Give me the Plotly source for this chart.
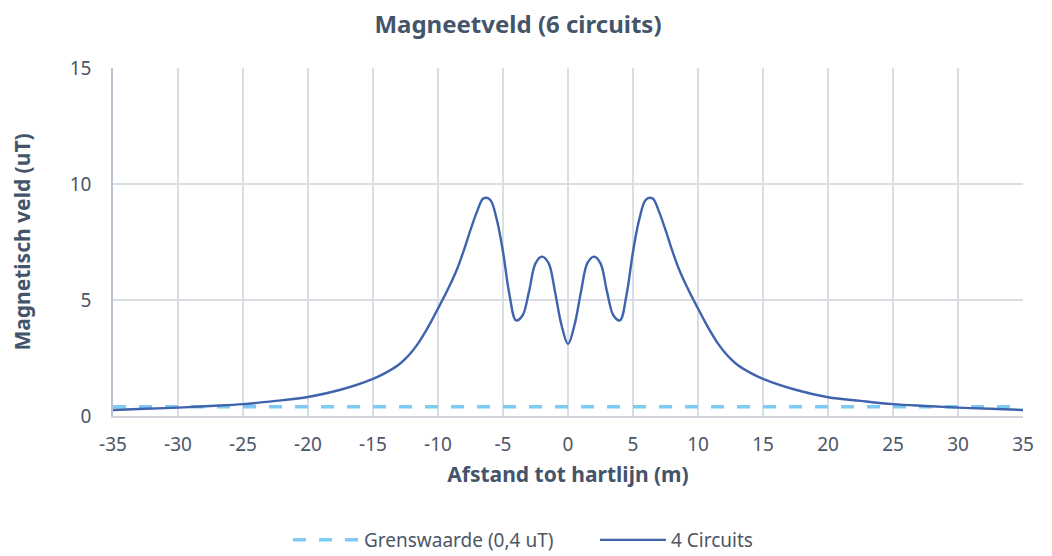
import plotly.graph_objects as go

# Data
afstand = [-35, -32.5, -30, -27.5, -25, -22.5, -20, -17.5, -15, -14, -13, -12.5, -12, -11.5, -11, -10.5, -10, -9.5, -9, -8.5, -8,
           -7.5, -7, -6.5, -6, -5.5, -5, -4.5, -4, -3.5, -3, -2.5, -2, -1.5, -1, -0.5, 0,
           0.5, 1, 1.5, 2, 2.5, 3, 3.5, 4, 4.5, 5, 5.5, 6, 6.5, 7, 7.5,
           8, 8.5, 9, 9.5, 10, 10.5, 11, 11.5, 12, 12.5, 13, 14, 15, 17.5, 20, 22.5, 25, 27.5, 30, 32.5, 35]
veld_4_circuits = [0.26, 0.31, 0.36, 0.43, 0.51, 0.65, 0.82, 1.13, 1.6, 1.87, 2.22, 2.47, 2.78, 3.15, 3.6, 4.1, 4.63, 5.17, 5.74, 6.38, 7.16,
                   8.02, 8.81, 9.38, 9.33, 8.52, 7.08, 5.22, 4.12, 4.33, 5.36, 6.58, 6.87, 6.6, 5.36, 3.92, 3.1,
                   3.92, 5.36, 6.6, 6.87, 6.58, 5.36, 4.33, 4.12, 5.22, 7.08, 8.52, 9.33, 9.38, 8.81, 8.02,
                   7.16, 6.38, 5.74, 5.17, 4.63, 4.1, 3.6, 3.15, 2.78, 2.47, 2.22, 1.87, 1.6, 1.13, 0.81, 0.65, 0.51, 0.43, 0.36, 0.31, 0.26]

grens_x = [-35, 35]
grens_y = [0.4, 0.4]

x_tickvals = [-35, -30, -25, -20, -15, -10, -5, 0, 5, 10, 15, 20, 25, 30, 35]
x_ticktext = ["-35", "-30", "-25", "-20", "-15", "-10", "-5", "0", "5", "10", "15", "20", "25", "30", "35"]
y_tickvals = [0, 5, 10, 15]

FONT = "Noto Sans"
TITLE_COLOR = "#44546a"
TICK_COLOR = "#4d5666"
GRID = "#d9dee5"

W, H = 1044, 548  # page body adds an 8px offset inside the 1052x556 window

fig = go.Figure()
fig.add_trace(go.Scatter(
    x=grens_x, y=grens_y, mode="lines", name="Grenswaarde (0,4 uT)",
    line=dict(color="#7dcbf3", width=3.5, dash="13px,13px"),
))
fig.add_trace(go.Scatter(
    x=afstand, y=veld_4_circuits, mode="lines", name="4 Circuits",
    line=dict(color="#3f63ad", width=2.4, shape="spline", smoothing=1.0),
))

fig.update_layout(
    width=W, height=H,
    margin=dict(l=105, r=29, t=60, b=140),
    paper_bgcolor="white", plot_bgcolor="white",
    font=dict(family=FONT, color=TICK_COLOR, size=18),
    title=dict(text="<b>Magneetveld (6 circuits)</b>", x=510 / W, xanchor="center",
               y=1 - 17 / H, yanchor="middle", yref="container",
               font=dict(family=FONT, size=24, color=TITLE_COLOR)),
    showlegend=True,
    legend=dict(orientation="h", xref="container", yref="container",
                x=280 / W, xanchor="left", y=1 - 532 / H, yanchor="middle",
                font=dict(family=FONT, size=19, color=TICK_COLOR),
                itemwidth=66, entrywidth=226, entrywidthmode="pixels",
                bgcolor="rgba(0,0,0,0)"),
)

fig.update_xaxes(
    range=[-35, 35], tickvals=x_tickvals, ticktext=x_ticktext,
    showgrid=True, gridcolor=GRID, gridwidth=1.5,
    showline=True, linecolor="#d0d5dc", linewidth=1.5, mirror=False,
    zeroline=False, ticks="", ticklabelstandoff=10,
    tickfont=dict(family=FONT, size=19, color=TICK_COLOR),
    title=dict(text="<b>Afstand tot hartlijn (m)</b>", standoff=12,
               font=dict(family=FONT, size=21, color=TITLE_COLOR)),
    automargin=False,
)
fig.update_yaxes(
    range=[0, 15], tickvals=y_tickvals,
    showgrid=True, gridcolor=GRID, gridwidth=1.5,
    showline=True, linecolor="#b8c2d1", linewidth=1.5,
    zeroline=False, ticks="", ticklabelstandoff=16,
    tickfont=dict(family=FONT, size=19, color=TICK_COLOR),
    title=dict(text="<b>Magnetisch veld (uT)</b>", standoff=34,
               font=dict(family=FONT, size=21, color=TITLE_COLOR)),
    automargin=False,
)

fig.write_html("out.html")
